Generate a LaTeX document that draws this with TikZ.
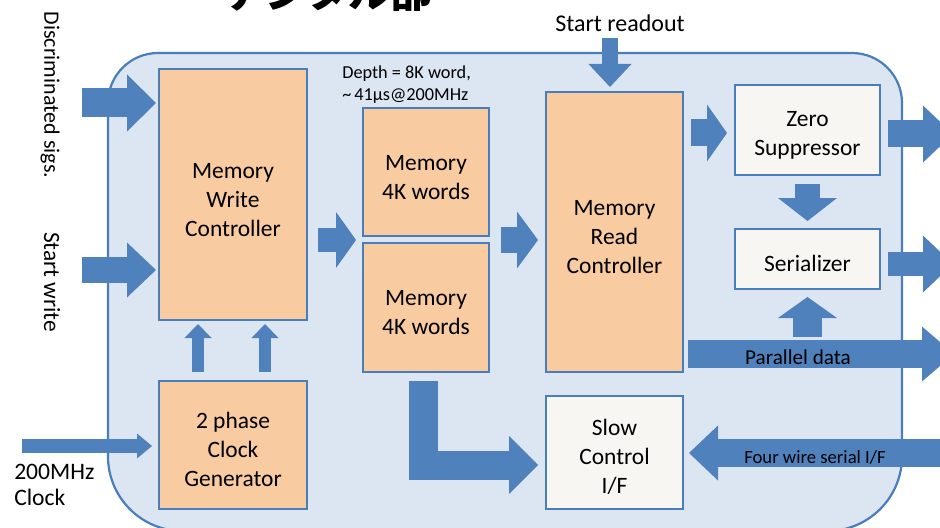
\documentclass[tikz,border=0pt]{standalone}
\usepackage{fontspec}
\setmainfont{Carlito}
\newfontfamily\cjk{Noto Sans CJK JP}
\usetikzlibrary{arrows.meta,calc}
\definecolor{bgblue}{HTML}{DCE6F2}
\definecolor{edgeblue}{HTML}{4A7EBB}
\definecolor{arrowfill}{HTML}{4F81BD}
\definecolor{orangefill}{HTML}{F8CBA0}
\definecolor{offwhite}{HTML}{F8F6F3}
\newcommand\bxfont{\fontsize{17.6}{21.75}\selectfont}
\newcommand\tpstrut{\rule{0pt}{19pt}}
\begin{document}
\begin{tikzpicture}[x=0.75pt,y=-0.75pt,
  box/.style={draw=edgeblue, line width=1.5pt, fill=orangefill, align=center, inner sep=0pt, font=\bxfont},
  wbox/.style={box, fill=offwhite},
  barrow/.style n args={3}{draw=arrowfill, line width=#1pt, -{Triangle[length=#3pt, width=#2pt, line width=0pt]}},
  lbl/.style={inner sep=0pt, text=black}
]
\useasboundingbox (0,0) rectangle (940,528);
\clip (0,0) rectangle (940,528);

% background region
\draw[fill=bgblue, draw=edgeblue, line width=1.65pt]
  (108,300) [rounded corners=37.5pt] -- (108,53) -- (902,53) -- (902,300)
  [rounded corners=56pt] -- (902,531) -- (108,531) -- (108,300);

% clipped title
\node[lbl, anchor=base west, font=\cjk\bfseries\fontsize{31.5}{32}\selectfont] (title) at (223,8) {デジタル部};

% boxes
\node[box, minimum width=111pt, minimum height=188.25pt] (mwc) at (233,194.5) {\tpstrut Memory\\Write\\Controller};
\node[box, minimum width=111pt, minimum height=96pt] (clk) at (233,445) {\tpstrut 2 phase\\Clock\\Generator};
\node[box, minimum width=94.5pt, minimum height=96pt] (mem1) at (426,172) {\tpstrut Memory\\4K words};
\node[box, minimum width=94.5pt, minimum height=96.75pt] (mem2) at (426,307.5) {\tpstrut Memory\\4K words};
\node[box, minimum width=102.75pt, minimum height=210pt] (mrc) at (614.5,232) {\tpstrut Memory\\Read\\Controller};
\node[wbox, minimum width=102.75pt, minimum height=84.75pt] (slow) at (614.5,452.5) {\tpstrut Slow\\Control\\I/F};
\node[wbox, minimum width=108.75pt, minimum height=67.5pt] (zero) at (807.5,130) {\tpstrut Zero\\Suppressor};
\node[wbox, minimum width=108.75pt, minimum height=45pt] (ser) at (807.5,259) {\tpstrut Serializer};

% free ends
\coordinate (ds) at (82,103);
\coordinate (sw) at (82,270);
\coordinate (mg) at (0,240);
\coordinate (srA) at (610,38);
\coordinate (pdA) at (688,354);
\coordinate (pdB) at (954,354);
\coordinate (fwA) at (970,453);
\coordinate (clkA) at (22,446);

% arrows
\draw[barrow={21.75}{42.75}{21.75}] (ds) -- ($(ds -| mwc.west)+(-2,0)$);
\draw[barrow={19.5}{41.25}{21.75}] (sw) -- ($(sw -| mwc.west)+(-2,0)$);
\draw[barrow={9}{20.25}{10.5}] ($(clk.north)+(-35,-8)$) -- ($(mwc.south)+(-35,3)$);
\draw[barrow={9}{20.25}{10.5}] ($(clk.north)+(32,-8)$) -- ($(mwc.south)+(32,3)$);
\draw[barrow={10.5}{18.75}{11.25}] (clkA) -- ($(clk.west)+(-6,1)$);
\draw[barrow={18}{42}{15}] ($(mg -| mwc.east)+(10,0)$) -- ($(mg -| mem1.west)+(-6,0)$);
\draw[barrow={19.5}{42.75}{15.75}] ($(mg -| mem1.east)+(11,0)$) -- ($(mg -| mrc.west)+(-7,0)$);
\draw[barrow={12}{32.25}{17.25}] (srA) -- ($(srA |- mrc.north)+(0,-4)$);
\draw[barrow={20.25}{42.75}{15}] ($(zero.west -| mrc.east)+(7,3)$) -- ($(zero.west)+(-7,3)$);
\draw[barrow={20.25}{42.75}{22.5}] ($(zero.east)+(7,4)$) -- ($(zero.east)+(72,4)$);
\draw[barrow={18.75}{44.25}{17.25}] ($(zero.south)+(0,8)$) -- ($(ser.north)+(0,-7)$);
\draw[barrow={18}{42.75}{22.5}] ($(ser.east)+(7,5)$) -- ($(ser.east)+(72,5)$);
\draw[barrow={21}{41.25}{24}] (pdA) -- (pdB);
\draw[barrow={21.75}{44.25}{15.75}] ($(ser.south)+(0,47)$) -- ($(ser.south)+(0,7)$);
\draw[barrow={21}{41.25}{21.75}] (fwA) -- ($(slow.east)+(5,0.5)$);
\draw[barrow={21.75}{43.5}{21.75}, line join=miter] ($(mem2.south)+(-2.5,8)$) |- ($(slow.west)+(-7,12.5)$);

% labels
\node[lbl, rotate=-90, font=\fontsize{16.5}{20}\selectfont] (dslbl) at (50,95) {Discriminated sigs.};
\node[lbl, rotate=-90, font=\fontsize{17.5}{20}\selectfont] (swlbl) at (52,282) {Start write};
\node[lbl, align=left, anchor=west, font=\fontsize{17.7}{19.5}\selectfont] (clklbl) at (14,485) {200MHz\\Clock};
\node[lbl, align=left, anchor=west, font=\fontsize{13.7}{16.5}\selectfont] (depth) at (342,85) {Depth = 8K word,\\\textasciitilde\,41μs@200MHz};
\node[lbl, font=\fontsize{18}{20}\selectfont] (srlbl) at (620,23) {Start readout};
\node[lbl, font=\fontsize{15.9}{18}\selectfont] (pdlbl) at (798,357) {Parallel data};
\node[lbl, font=\fontsize{14}{16}\selectfont] (fwlbl) at (815,457) {Four wire serial I/F};
\end{tikzpicture}
\end{document}
